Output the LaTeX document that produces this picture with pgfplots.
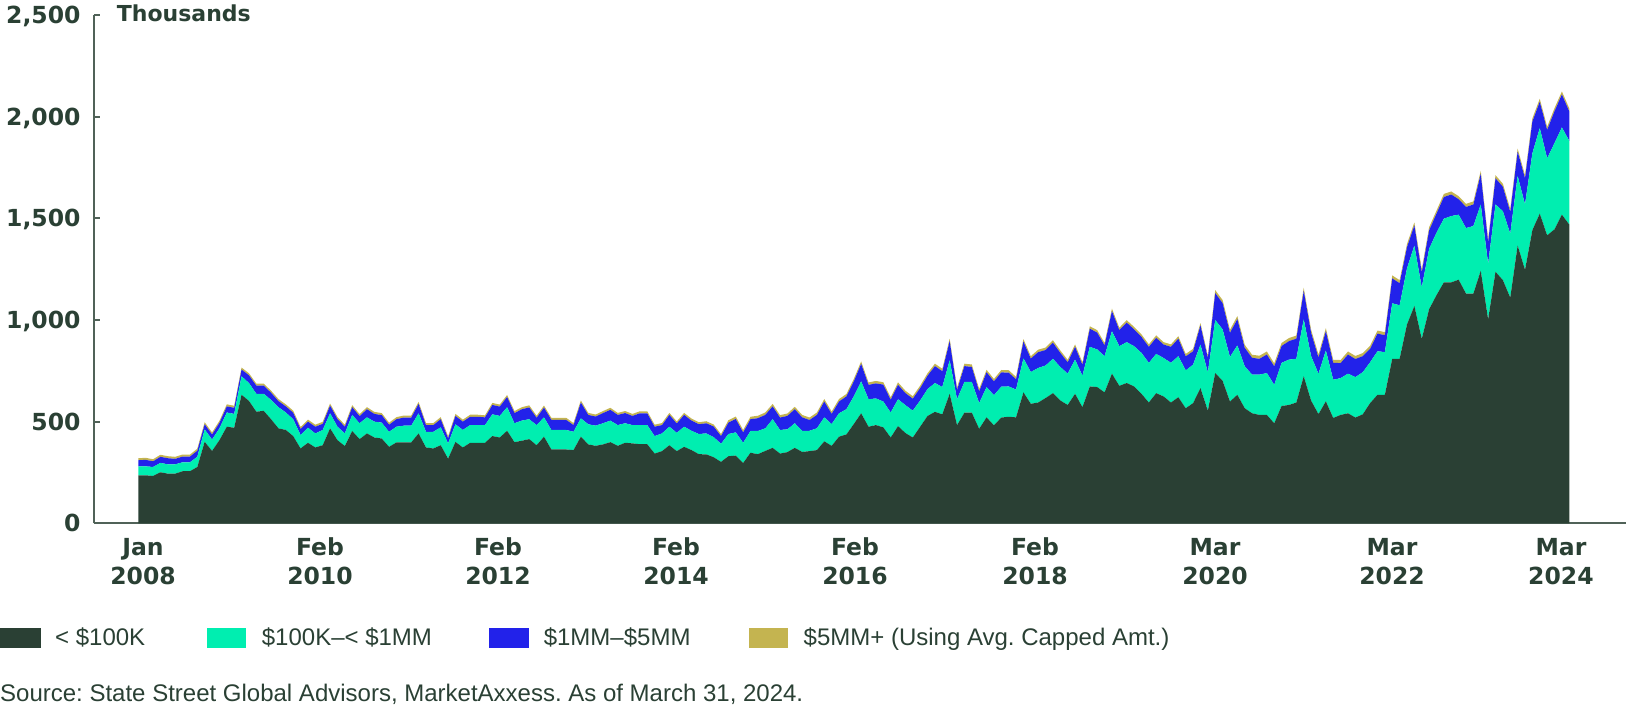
\documentclass[border=0pt]{standalone}
\usepackage{fontspec}
\setmainfont{Liberation Sans}
\newfontfamily\tickfont{DejaVu Sans}
\usepackage{pgfplots}
\usepackage{pgfplotstable}
\pgfplotsset{compat=1.18}
\frenchspacing

\definecolor{cDark}{RGB}{42,64,52}
\definecolor{cTeal}{RGB}{0,238,176}
\definecolor{cBlue}{RGB}{34,34,234}
\definecolor{cGold}{RGB}{196,180,80}
\definecolor{cAxis}{RGB}{80,98,88}
\definecolor{cText}{RGB}{42,64,52}

% monthly, Jan 2008 (0) to Mar 2024 (194); thousands
% d: <$100K, t: $100K-<$1MM, b: $1MM-$5MM, g: $5MM+
\pgfplotstableread{
i d t b g
0 236 44 30 10
1 236 44 32 10
2 233 44 28 10
3 251 46 30 10
4 244 46 30 10
5 244 46 27 10
6 256 44 28 10
7 256 44 28 10
8 277 50 30 10
9 401 61 25 10
10 356 56 25 10
11 409 58 27 10
12 475 70 30 10
13 470 68 30 10
14 632 91 33 10
15 602 88 38 10
16 549 88 40 10
17 553 84 40 10
18 512 95 35 10
19 467 104 30 10
20 459 86 30 10
21 429 83 32 10
22 368 66 30 10
23 396 74 30 10
24 373 69 33 10
25 384 75 30 10
26 467 74 38 10
27 409 66 38 10
28 380 62 33 10
29 454 79 38 10
30 414 78 35 10
31 442 79 40 10
32 422 78 38 10
33 417 78 37 10
34 376 74 35 10
35 398 77 37 10
36 398 82 40 10
37 398 82 40 10
38 442 99 46 10
39 373 77 33 10
40 368 82 33 10
41 384 88 40 10
42 318 75 25 10
43 400 87 41 10
44 373 86 41 10
45 396 87 41 10
46 396 87 41 10
47 396 87 38 10
48 429 107 46 10
49 422 106 46 10
50 455 116 50 10
51 399 93 50 10
52 406 99 56 10
53 414 98 58 10
54 384 99 36 10
55 426 95 48 10
56 363 96 50 10
57 363 96 50 10
58 363 96 50 10
59 360 90 33 10
60 426 90 78 10
61 388 99 46 10
62 381 99 45 10
63 388 104 50 10
64 399 106 53 10
65 381 102 50 10
66 396 96 50 10
67 393 90 45 10
68 389 94 58 10
69 389 94 58 10
70 343 86 46 10
71 355 87 41 10
72 384 91 58 10
73 355 90 46 10
74 376 99 58 10
75 360 95 50 10
76 340 99 48 10
77 339 103 50 10
78 325 99 52 10
79 302 89 38 10
80 330 109 56 12
81 333 114 66 12
82 297 99 51 12
83 347 107 58 12
84 340 114 63 12
85 356 111 66 12
86 371 141 63 12
87 343 116 61 12
88 350 112 66 12
89 371 121 69 12
90 351 104 66 12
91 355 100 53 12
92 360 107 66 12
93 403 118 78 12
94 381 107 50 12
95 426 115 58 12
96 437 124 63 12
97 488 136 74 12
98 541 157 86 12
99 475 135 71 12
100 483 131 74 12
101 472 127 83 12
102 422 123 63 12
103 478 132 71 12
104 444 137 59 12
105 422 132 59 12
106 475 129 61 12
107 528 132 66 12
108 548 142 83 12
109 536 134 78 12
110 637 165 94 12
111 483 127 46 12
112 544 151 78 12
113 544 151 74 12
114 465 126 58 12
115 521 149 73 12
116 482 148 68 12
117 520 152 70 12
118 524 149 68 12
119 521 137 50 12
120 644 167 83 12
121 588 156 66 12
122 594 170 78 12
123 616 160 76 12
124 640 169 79 12
125 604 165 69 12
126 582 154 56 12
127 637 168 63 12
128 571 155 54 12
129 673 195 89 12
130 670 185 83 12
131 644 178 53 12
132 736 209 99 12
133 676 195 79 12
134 690 201 96 12
135 673 198 83 12
136 637 201 79 12
137 594 195 79 12
138 640 193 79 12
139 624 189 66 12
140 594 195 79 12
141 620 202 86 12
142 566 186 69 12
143 591 189 66 12
144 665 214 94 12
145 554 188 71 12
146 739 261 132 15
147 701 253 129 15
148 599 219 119 15
149 632 243 129 15
150 566 206 91 15
151 541 190 83 15
152 533 198 78 15
153 533 206 91 15
154 492 189 91 15
155 577 212 83 15
156 582 223 91 15
157 594 215 99 15
158 723 280 140 15
159 603 219 115 15
160 537 198 80 15
161 600 250 95 15
162 518 188 83 15
163 533 181 74 15
164 541 195 94 15
165 520 199 89 15
166 536 207 79 15
167 591 201 66 15
168 632 214 87 15
169 632 210 83 15
170 809 273 122 15
171 809 263 109 15
172 978 276 104 15
173 1069 297 99 15
174 907 253 74 15
175 1053 297 91 15
176 1122 307 94 15
177 1185 313 107 15
178 1185 326 106 15
179 1198 320 76 15
180 1130 322 104 15
181 1130 332 106 15
182 1242 326 150 15
183 1003 273 107 15
184 1237 331 129 15
185 1196 339 120 15
186 1110 314 107 15
187 1366 343 119 15
188 1247 321 129 15
189 1442 378 157 15
190 1523 421 129 15
191 1416 379 140 15
192 1446 424 157 15
193 1518 429 162 15
194 1469 412 145 15
}\data

\begin{document}
\begin{tikzpicture}
\useasboundingbox (0,0) rectangle (1626pt,714pt);
\begin{axis}[
  at={(94.3pt,190.7pt)}, anchor=south west,
  scale only axis, width=1531.7pt, height=508.3pt,
  xmin=-5.965, xmax=201.69, ymin=0, ymax=2500,
  stack plots=y,
  axis x line*=bottom, axis y line*=left,
  axis line style={draw=cAxis, line width=1.8pt, -},
  x axis line style={-}, y axis line style={-},
  tick align=inside, major tick length=6pt,
  ytick={0,500,1000,1500,2000,2500},
  yticklabels={0,500,{1,000},{1,500},{2,000},{2,500}},
  ytick style={draw=cAxis, line width=1.8pt},
  yticklabel style={font=\tickfont\bfseries\fontsize{23.5}{28}\selectfont, text=cText,
    anchor=base east, inner sep=0pt, xshift=-13.6pt, yshift=-8.6pt},
  xtick={0.64,24.63,48.76,72.9,97.16,121.57,145.97,169.97,192.87},
  xticklabels={Jan,Feb,Feb,Feb,Feb,Feb,Mar,Mar,Mar},
  xtick style={draw=none},
  xticklabel style={font=\tickfont\bfseries\fontsize{23.5}{28}\selectfont, text=cText,
    anchor=base, yshift=-32.7pt},
  extra x ticks={0.64,24.63,48.76,72.9,97.16,121.57,145.97,169.97,192.87},
  extra x tick labels={2008,2010,2012,2014,2016,2018,2020,2022,2024},
  extra x tick style={xtick style={draw=none}, xticklabel style={yshift=-29pt}},
]
\addplot[fill=cDark, draw=none] table[x=i, y=d] {\data} \closedcycle;
\addplot[fill=cTeal, draw=none] table[x=i, y=t] {\data} \closedcycle;
\addplot[fill=cBlue, draw=none] table[x=i, y=b] {\data} \closedcycle;
\addplot[fill=cGold, draw=none] table[x=i, y=g] {\data} \closedcycle;
\end{axis}

\node[anchor=base west, inner sep=0pt, text=cText,
  font=\tickfont\bfseries\fontsize{22}{26}\selectfont] at (116.7pt,692.3pt) {Thousands};

% legend
\fill[cDark] (0pt,66.3pt) rectangle (40.7pt,86.3pt);
\fill[cTeal] (206.7pt,66.3pt) rectangle (246pt,86.3pt);
\fill[cBlue] (489.3pt,66.3pt) rectangle (528.6pt,86.3pt);
\fill[cGold] (748.7pt,66.3pt) rectangle (788pt,86.3pt);
\begin{scope}[every node/.style={anchor=base west, inner sep=0pt, text=cText,
    font=\fontsize{24}{28}\selectfont}]
\node at (55pt,68pt) {< \$100K};
\node at (261.7pt,68pt) {\$100K–< \$1MM};
\node at (543.6pt,68pt) {\$1MM–\$5MM};
\node at (803.5pt,68pt) {\$5MM+ (Using Avg. Capped Amt.)};
\node at (0pt,12.3pt) {Source: State Street Global Advisors, MarketAxxess. As of March 31, 2024.};
\end{scope}
\end{tikzpicture}
\end{document}
